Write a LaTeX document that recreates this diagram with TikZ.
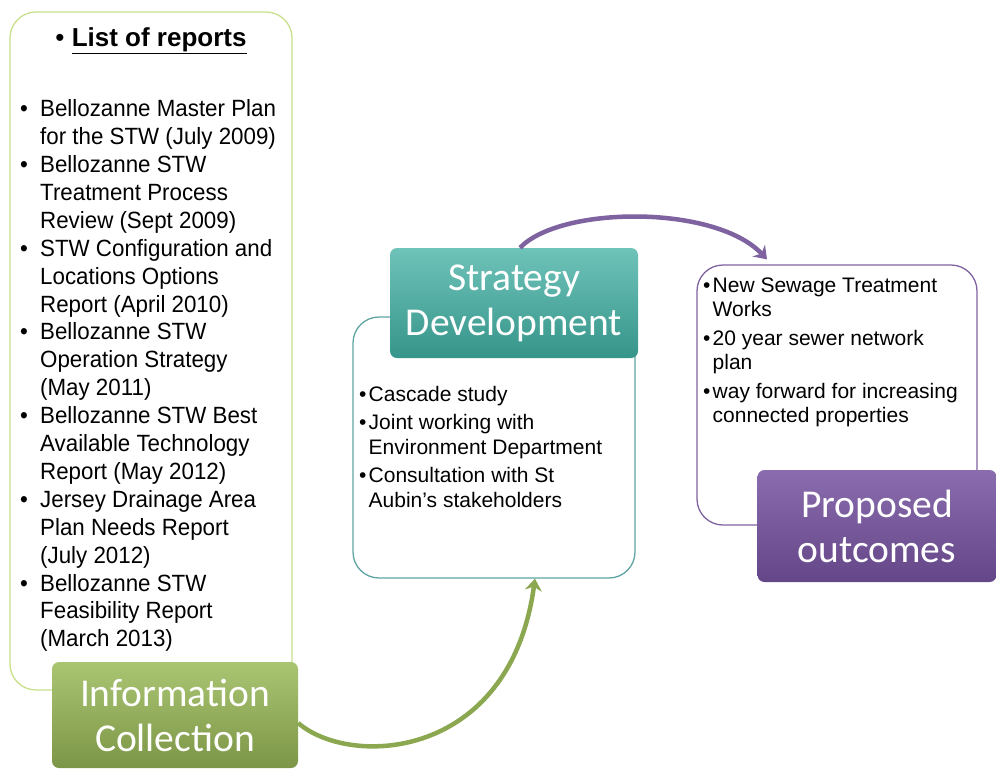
\documentclass[tikz,border=0pt]{standalone}
\usepackage{fontspec}
\setmainfont{Liberation Sans}
\newfontfamily\narrowfont[FakeStretch=0.95]{Liberation Sans}
\newfontfamily\hdfont{Carlito}
\usetikzlibrary{arrows.meta}

\definecolor{leafgreen}{HTML}{9BBB59}
\definecolor{leafedge}{HTML}{C8E08A}
\definecolor{tealtag}{HTML}{3FAFA2}
\definecolor{tealedge}{HTML}{5FA3A3}
\definecolor{plumtag}{HTML}{7653A0}
\definecolor{plumedge}{HTML}{7E63A0}

\newcommand{\dotitem}{\makebox[9.5pt][l]{\textbullet}}

\begin{document}
\begin{tikzpicture}[x=1pt,y=-1pt,
    panel/.style={draw, line width=1.3pt, rounded corners=26pt, fill=white, inner sep=0pt},
    tag/.style={rounded corners=7pt, text=white, align=center, inner sep=0pt,
      font=\hdfont\fontsize{39.5}{45}\selectfont},
    loop/.style={line width=4.5pt, -{Stealth[length=12pt,width=17pt]}},
    listtext/.style={inner sep=0pt, anchor=north west, align=left}]
  \useasboundingbox (0,0) rectangle (997,769);
  % reports column
  \node[panel, draw=leafedge, minimum width=282pt, minimum height=678pt] (reports) at (151,351) {};
  \node[inner sep=0pt, font=\fontsize{26}{30}\selectfont] (title) at (151,41)
    {\textbullet\ \underline{\textbf{List of reports}}};
  \node[listtext, font=\narrowfont\fontsize{23.5}{27.9}\selectfont] (reportlist) at (20,97) {%
    \begin{tabular}{@{}p{20pt}@{}l@{}}
    \textbullet & Bellozanne Master Plan\\
                & for the STW (July 2009)\\
    \textbullet & Bellozanne STW\\
                & Treatment Process\\
                & Review (Sept 2009)\\
    \textbullet & STW Configuration and\\
                & Locations Options\\
                & Report (April 2010)\\
    \textbullet & Bellozanne STW\\
                & Operation Strategy\\
                & (May 2011)\\
    \textbullet & Bellozanne STW Best\\
                & Available Technology\\
                & Report (May 2012)\\
    \textbullet & Jersey Drainage Area\\
                & Plan Needs Report\\
                & (July 2012)\\
    \textbullet & Bellozanne STW\\
                & Feasibility Report\\
                & (March 2013)
    \end{tabular}};
  \node[tag, top color=leafgreen!85!white, bottom color=leafgreen!80!black,
    minimum width=246pt, minimum height=106pt] (infocoll) at (175,715)
    {Information\\Collection};
  % strategy column
  \node[panel, draw=tealedge, minimum width=282pt, minimum height=261pt] (studies) at (494,447.5) {};
  \node[listtext, font=\fontsize{21}{24.5}\selectfont] (studylist) at (359,384) {%
    \begin{tabular}{@{}l@{}l@{}}
    \dotitem & Cascade study\\[4pt]
    \dotitem & Joint working with\\
             & Environment Department\\[4pt]
    \dotitem & Consultation with St\\
             & Aubin's stakeholders
    \end{tabular}};
  \node[tag, top color=tealtag!75!white, bottom color=tealtag!85!black,
    minimum width=248pt, minimum height=110pt] (stratdev) at (514,303)
    {Strategy\\Development};
  % outcomes column
  \node[panel, draw=plumedge, minimum width=280pt, minimum height=260pt] (results) at (837,395) {};
  \node[listtext, font=\fontsize{21}{23.5}\selectfont] (resultlist) at (703,276) {%
    \begin{tabular}{@{}l@{}l@{}}
    \dotitem & New Sewage Treatment\\
             & Works\\[6pt]
    \dotitem & 20 year sewer network\\
             & plan\\[6pt]
    \dotitem & way forward for increasing\\
             & connected properties
    \end{tabular}};
  \node[tag, top color=plumtag!85!white, bottom color=plumtag!85!black,
    minimum width=239pt, minimum height=112pt] (outcomes) at (877,526)
    {Proposed\\outcomes};
  % cycle arrows
  \draw[loop, leafgreen!90!black] ([yshift=-8pt]infocoll.east)
    .. controls +(52,45) and +(-25,182) .. ([xshift=41pt]studies.south);
  \draw[loop, plumedge] ([xshift=6pt]stratdev.north)
    .. controls +(40,-42) and +(-52,-55) .. ([xshift=-70pt,yshift=5pt]results.north);
\end{tikzpicture}
\end{document}
